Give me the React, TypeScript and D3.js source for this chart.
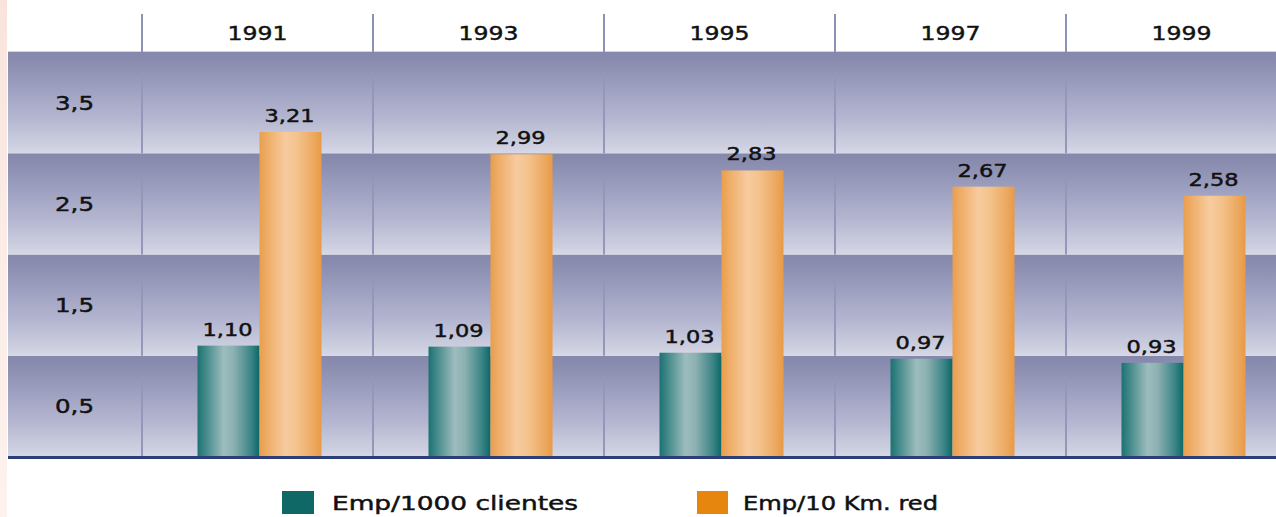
import React from "react";
import * as d3 from "d3";

// Employees per 1000 customers and per 10 km of network, by year
const years = ["1991", "1993", "1995", "1997", "1999"];
const empPerThousandClients = [1.1, 1.09, 1.03, 0.97, 0.93];
const empPerTenKmNetwork = [3.21, 2.99, 2.83, 2.67, 2.58];
const seriesNames = ["Emp/1000 clientes", "Emp/10 Km. red"];
const yTickValues = [0.5, 1.5, 2.5, 3.5];

const W = 1276;
const H = 517;
const FONT = "'DejaVu Sans', Verdana, sans-serif";
const INK = "#111";

const fmt = (v: number, digits: number) => v.toFixed(digits).replace(".", ",");

export default function App() {
  const y = d3.scaleLinear().domain([0, 4]).range([457, 52]);
  const x = d3.scaleBand<string>().domain(years).range([142, 142 + 231 * 5]).padding(0);
  const inner = d3.scaleBand<number>().domain([0, 1]).range([0, 124]).padding(0);
  const barW = inner.bandwidth();

  const bandRows = d3.range(4); // one shaded row per unit of the axis
  const series = [empPerThousandClients, empPerTenKmNetwork];
  const fills = ["url(#gTeal)", "url(#gOrange)"];

  const textStyle = { fill: INK, stroke: INK, strokeWidth: 0.45 };

  return (
    <svg
      width={W}
      height={H}
      style={{ position: "absolute", left: 0, top: 0, background: "#fff" }}
      fontFamily={FONT}
    >
      <defs>
        <linearGradient id="gEdge" x1="0" y1="0" x2="0" y2="1">
          <stop offset="0%" stopColor="#f8e4dc" />
          <stop offset="40%" stopColor="#fbebe5" />
          <stop offset="100%" stopColor="#fdf2ee" />
        </linearGradient>
        <linearGradient id="gBand" x1="0" y1="0" x2="0" y2="1">
          <stop offset="0%" stopColor="#8587ab" />
          <stop offset="10%" stopColor="#8b8db0" />
          <stop offset="35%" stopColor="#9d9fc0" />
          <stop offset="65%" stopColor="#b4b6d0" />
          <stop offset="92%" stopColor="#cdcfe0" />
          <stop offset="100%" stopColor="#d7d8e6" />
        </linearGradient>
        <linearGradient id="gTeal" x1="0" y1="0" x2="1" y2="0">
          <stop offset="0%" stopColor="#1c7272" />
          <stop offset="12%" stopColor="#3f8787" />
          <stop offset="42%" stopColor="#9dbcbd" />
          <stop offset="58%" stopColor="#8db1b2" />
          <stop offset="86%" stopColor="#3c8586" />
          <stop offset="100%" stopColor="#0c6767" />
        </linearGradient>
        <linearGradient id="gOrange" x1="0" y1="0" x2="1" y2="0">
          <stop offset="0%" stopColor="#e99e4c" />
          <stop offset="12%" stopColor="#eeac66" />
          <stop offset="42%" stopColor="#f7cb9e" />
          <stop offset="60%" stopColor="#f4c38d" />
          <stop offset="88%" stopColor="#eca85e" />
          <stop offset="100%" stopColor="#e89a45" />
        </linearGradient>
      </defs>

      {/* soft tinted strip on the left edge */}
      <rect x={0} y={0} width={7} height={H} fill="url(#gEdge)" />

      {/* shaded rows */}
      <line x1={8} x2={W} y1={y(4) - 0.5} y2={y(4) - 0.5} stroke="#d3d4e3" strokeWidth={1} />
      {bandRows.map((k) => (
        <rect key={k} x={8} y={y(k + 1)} width={W - 8} height={y(k) - y(k + 1)} fill="url(#gBand)" />
      ))}

      {/* column separators: header part and inside each row */}
      {years.map((yr) => (
        <g key={yr}>
          <line x1={x(yr)!} x2={x(yr)!} y1={14} y2={y(4)} stroke="#8d91b5" strokeWidth={2} />
          {bandRows.map((k) => (
            <line
              key={k}
              x1={x(yr)!}
              x2={x(yr)!}
              y1={y(k + 1) + 20}
              y2={y(k)}
              stroke="#9496ba"
              strokeWidth={2}
            />
          ))}
        </g>
      ))}

      {/* year headers */}
      {years.map((yr) => (
        <text
          key={yr}
          x={x(yr)! + x.bandwidth() / 2}
          y={40}
          textAnchor="middle"
          fontSize={20}
          style={textStyle}
          textLength={60}
          lengthAdjust="spacingAndGlyphs"
        >
          {yr}
        </text>
      ))}

      {/* axis labels in the first column */}
      {yTickValues.map((v) => (
        <text
          key={v}
          x={55}
          y={y(v) + 7}
          fontSize={20}
          style={textStyle}
          textLength={39}
          lengthAdjust="spacingAndGlyphs"
        >
          {fmt(v, 1)}
        </text>
      ))}

      {/* bars */}
      {years.map((yr, i) => {
        const cx = x(yr)! + x.bandwidth() / 2 + 2 - inner.range()[1] / 2;
        return (
          <g key={yr}>
            {series.map((vals, s) => {
              const bx = cx + inner(s)!;
              return (
                <g key={s}>
                  <rect x={bx} y={y(vals[i])} width={barW} height={y(0) - y(vals[i])} fill={fills[s]} />
                  <text
                    x={bx + barW / 2 - 1}
                    y={y(vals[i]) - 10}
                    textAnchor="middle"
                    fontSize={17}
                    style={textStyle}
                    textLength={50}
                    lengthAdjust="spacingAndGlyphs"
                  >
                    {fmt(vals[i], 2)}
                  </text>
                </g>
              );
            })}
          </g>
        );
      })}

      {/* baseline */}
      <line x1={8} x2={W} y1={y(0) + 0.5} y2={y(0) + 0.5} stroke="#2b3e78" strokeWidth={3} />

      {/* legend */}
      <rect x={282} y={491} width={32} height={23} fill="#0f6766" />
      <text x={332} y={510} fontSize={19} style={textStyle} textLength={246} lengthAdjust="spacingAndGlyphs">
        {seriesNames[0]}
      </text>
      <rect x={697} y={491} width={31} height={23} fill="#e6860f" />
      <text x={743} y={510} fontSize={19} style={textStyle} textLength={195} lengthAdjust="spacingAndGlyphs">
        {seriesNames[1]}
      </text>
    </svg>
  );
}
